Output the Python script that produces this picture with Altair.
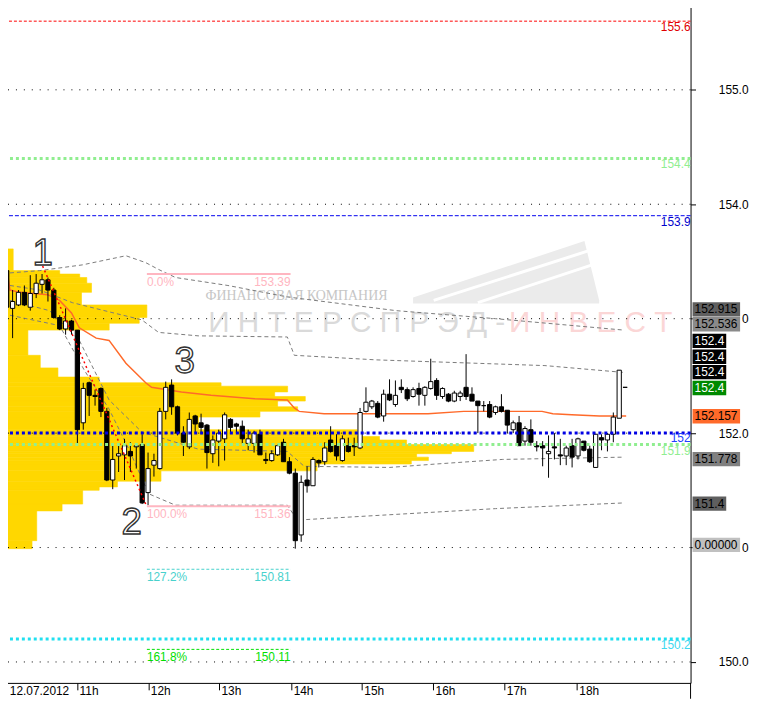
import json
import altair as alt
import pandas as pd

# ---------------- candles (5-minute bars) ----------------
opens = [153.42, 153.09, 153.12, 153.23, 153.10, 153.22, 153.30, 153.34, 153.25, 153.01,
         152.91, 152.98, 152.90, 152.09, 152.44, 152.33, 152.39, 152.19, 151.59, 151.80,
         151.81, 151.84, 151.88, 151.90, 151.48, 151.72, 151.69, 152.19, 152.42, 152.23,
         152.00, 151.88, 152.15, 152.09, 152.07, 151.82, 151.93, 151.95, 152.12, 152.08,
         152.06, 151.91, 151.91, 151.99, 151.77, 151.76, 151.81, 151.92, 151.75, 151.65,
         151.11, 151.59, 151.54, 151.76, 151.75, 151.94, 151.89, 151.76, 151.89, 151.89,
         151.87, 152.19, 152.23, 152.26, 152.15, 152.34, 152.25, 152.40, 152.38, 152.32,
         152.39, 152.33, 152.39, 152.46, 152.32, 152.34, 152.28, 152.32, 152.40, 152.34,
         152.28, 152.24, 152.25, 152.18, 152.23, 152.20, 152.03, 152.09, 151.93, 152.03,
         151.89, 151.89, 151.82, 151.88, 151.81, 151.80, 151.89, 151.80, 151.93, 151.86,
         151.70, 151.96, 151.94, 151.99, 152.13, 152.40]
highs = [153.49, 153.25, 153.25, 153.29, 153.38, 153.39, 153.39, 153.36, 153.27, 153.03,
         153.09, 152.99, 152.90, 152.44, 152.45, 152.38, 152.40, 152.22, 151.89, 151.89,
         151.95, 151.92, 151.91, 151.99, 151.83, 151.82, 152.22, 152.45, 152.47, 152.24,
         152.06, 152.18, 152.16, 152.17, 152.08, 151.98, 152.03, 152.18, 152.13, 152.09,
         152.11, 152.03, 152.02, 152.03, 151.83, 151.85, 151.90, 151.95, 151.79, 151.69,
         151.63, 151.71, 151.79, 151.77, 151.92, 152.06, 151.99, 151.98, 151.96, 151.96,
         152.22, 152.40, 152.29, 152.28, 152.38, 152.47, 152.46, 152.47, 152.40, 152.40,
         152.44, 152.41, 152.65, 152.48, 152.40, 152.35, 152.37, 152.37, 152.69, 152.40,
         152.28, 152.28, 152.28, 152.24, 152.34, 152.20, 152.11, 152.15, 152.06, 152.12,
         151.93, 151.93, 151.98, 152.00, 151.95, 151.89, 151.95, 151.96, 151.93, 151.89,
         151.99, 151.99, 152.00, 152.18, 152.55, 152.40]
lows = [153.03, 152.83, 153.11, 153.11, 153.07, 153.18, 153.22, 153.15, 153.00, 152.90,
        152.86, 152.86, 151.90, 152.03, 152.15, 152.24, 152.14, 151.58, 151.51, 151.66,
        151.59, 151.66, 151.69, 151.38, 151.37, 151.62, 151.68, 152.12, 152.16, 151.98,
        151.80, 151.86, 152.00, 151.99, 151.69, 151.74, 151.71, 151.76, 152.00, 152.00,
        151.91, 151.85, 151.83, 151.81, 151.73, 151.75, 151.80, 151.75, 151.64, 150.99,
        151.05, 151.48, 151.54, 151.70, 151.72, 151.83, 151.76, 151.75, 151.83, 151.80,
        151.86, 152.18, 152.21, 152.13, 152.10, 152.28, 152.23, 152.35, 152.28, 152.31,
        152.24, 152.24, 152.38, 152.29, 152.30, 152.27, 152.27, 152.28, 152.29, 152.28,
        152.00, 152.19, 152.13, 152.16, 152.18, 152.00, 152.00, 151.89, 151.89, 151.89,
        151.84, 151.71, 151.61, 151.77, 151.72, 151.72, 151.70, 151.77, 151.84, 151.74,
        151.70, 151.85, 151.84, 151.92, 152.13, 152.40]
closes = [153.10, 153.15, 153.23, 153.12, 153.22, 153.31, 153.34, 153.25, 153.01, 152.91,
          152.98, 152.90, 152.03, 152.39, 152.33, 152.32, 152.19, 151.59, 151.77, 151.82,
          151.89, 151.80, 151.89, 151.39, 151.69, 151.76, 152.19, 152.40, 152.23, 152.00,
          151.92, 152.12, 152.08, 152.05, 151.83, 151.94, 152.00, 152.16, 152.05, 152.06,
          151.95, 151.95, 152.00, 151.81, 151.76, 151.82, 151.89, 151.75, 151.65, 151.06,
          151.57, 151.54, 151.77, 151.74, 151.87, 151.84, 151.80, 151.95, 151.84, 151.88,
          152.18, 152.27, 152.28, 152.14, 152.34, 152.29, 152.33, 152.38, 152.30, 152.38,
          152.34, 152.40, 152.45, 152.33, 152.39, 152.28, 152.35, 152.35, 152.32, 152.28,
          152.24, 152.24, 152.14, 152.23, 152.19, 152.07, 152.09, 151.89, 152.04, 151.92,
          151.88, 151.87, 151.84, 151.87, 151.80, 151.87, 151.79, 151.95, 151.85, 151.75,
          151.99, 151.94, 151.99, 152.14, 152.55, 152.40]

# ---------------- axes ----------------
price_ticks = [150, 151, 152, 153, 154, 155]
covered_ticks = [151, 153]          # labels hidden behind the price boxes, only the last "0" shows
hour_ticks = [0.1, 11.95, 24.05, 36.05, 48.3, 60.3, 72.4, 84.5, 96.8]
hour_labels = ["12.07.2012", "11h", "12h", "13h", "14h", "15h", "16h", "17h", "18h"]

# ---------------- VWAP (orange) ----------------
vwap_i = [-0.84, -0.12, 0.56, 2.24, 6.95, 8.97, 11.0, 12.33, 15.19, 17.38, 20.24, 23.6, 24.6,
          29.66, 34.7, 42.1, 47.65, 48.83, 49.67, 53.88, 71.54, 77.6, 90.9, 92.73, 95.93,
          100.64, 105.18]
vwap_p = [153.57, 153.48, 153.25, 153.23, 153.21, 153.16, 153.05, 152.92, 152.83, 152.81,
          152.61, 152.44, 152.40, 152.36, 152.33, 152.30, 152.29, 152.22, 152.19, 152.17,
          152.17, 152.19, 152.19, 152.17, 152.16, 152.15, 152.15]

# ---------------- deviation bands (grey dashed) ----------------
band1_i = [0.56, 5.6, 12.83, 20.24, 23.6, 25.79, 28.65, 37.56, 47.65, 66.16, 83.0, 104.84]
band1_p = [153.40, 153.42, 153.47, 153.55, 153.49, 153.43, 153.36, 153.29, 153.19, 153.07, 153.00, 152.90]
band2_i = [0.56, 5.6, 11.15, 17.38, 22.93, 25.79, 32.52, 47.65, 48.83, 62.79, 91.39, 104.84]
band2_p = [153.29, 153.25, 153.14, 153.06, 152.99, 152.88, 152.85, 152.84, 152.68, 152.64, 152.59, 152.53]
band3_i = [0.56, 7.28, 12.33, 17.38, 22.93, 32.52, 47.65, 50.51, 65.0, 72.9, 84.15, 104.84]
band3_p = [153.16, 153.07, 152.81, 152.29, 152.01, 151.86, 151.84, 151.71, 151.70, 151.73, 151.77, 151.79]
band4_i = [0.56, 8.97, 13.17, 17.38, 20.74, 24.1, 28.65, 47.65, 49.33, 66.16, 83.0, 104.84]
band4_p = [153.03, 152.94, 152.55, 152.21, 151.86, 151.47, 151.37, 151.37, 151.24, 151.29, 151.34, 151.39]

# ---------------- zigzag (1 -> 2) ----------------
zigzag_i = [6.1, 23.6]
zigzag_p = [153.46, 151.38]

# ---------------- volume profile (yellow), volume in bar-widths ----------------
profile_edges = [153.61, 153.42, 153.39, 153.36, 153.31, 153.23, 153.12, 153.01, 152.96, 152.90,
                 152.68, 152.57, 152.49, 152.44, 152.41, 152.36, 152.32, 152.28, 152.23, 152.19,
                 152.14, 152.03, 151.97, 151.94, 151.90, 151.84, 151.82, 151.79, 151.76, 151.73,
                 151.67, 151.58, 151.53, 151.50, 151.38, 151.32, 151.06, 150.99]
profile_volume = [1.0, 8.9, 12.3, 13.5, 14.3, 12.6, 23.7, 22.4, 17.3, 3.5, 5.6, 8.6, 15.6, 36.3,
                  47.6, 45.4, 50.6, 45.9, 49.3, 42.9, 32.5, 59.4, 63.2, 67.8, 79.2, 75.4, 69.5,
                  71.5, 68.6, 52.6, 26.1, 18.7, 15.6, 12.8, 9.3, 5.0, 4.2]
profile_start = 0.1

# ---------------- horizontal levels ----------------
level_prices = [155.6, 154.4, 153.9, 152.0, 151.9, 150.2]
level_labels = ["155.6", "154.4", "153.9", "152", "151.9", "150.2"]

# ---------------- fibonacci ----------------
fib_pct = ["0.0%", "100.0%", "127.2%", "161.8%"]
fib_price = [153.39, 151.36, 150.81, 150.11]
fib_start = 23.8
fib_end = 48.2

# ---------------- price boxes at the right ----------------
box_text = ["152.915", "152.536", "152.4", "152.4", "152.4", "152.4", "152.157", "151.778", "151.4", "0.00000"]
box_pos = [153.081, 152.951, 152.806, 152.668, 152.533, 152.394, 152.148, 151.773, 151.384, 151.023]

# ---------------- wave numbers ----------------
wave_text = ["1", "2", "3"]
wave_i = [6.1, 21.2, 30.2]
wave_p = [153.566, 151.211, 152.622]

# ---------------- verticals ----------------
vgrid_i = [0.1]
vline_i = [0.05, -0.79]
vline_top = [155.75, 154.67]
vline_bottom = [150.99, 152.21]

# ---------------- watermark ----------------
wm_small_text = "ФИНАНСОВАЯ КОМПАНИЯ"
wm_small_pos = (49.2, 153.202)
wm_big_text = ["И Н Т Е Р С П Р Э Д -", "И Н В Е С Т"]
wm_big_i = [34.2, 85.3]
wm_big_p = [152.96, 152.96]
logo_i = [69.0, 98.1, 100.6]
logo_top = [153.185, 153.678, 153.159]
logo_bot = [153.133, 153.133, 153.133]
stripe_id = [1, 1, 2, 2]
stripe_i = [72.5, 98.6, 80.0, 99.4]
stripe_p = [153.16, 153.59, 153.14, 153.47]

# =====================================================================
XDOM = [-1.127, 116.115]
YDOM = [149.817, 155.756]
W, H = 697, 686
FONT = "Liberation Sans"
xs = alt.Scale(domain=XDOM, nice=False, zero=False)
ys = alt.Scale(domain=YDOM, nice=False, zero=False)


def X(f):
    return alt.X(f, scale=xs)


def Y(f):
    return alt.Y(f, scale=ys)


candles = pd.DataFrame({"i": list(range(len(opens))), "o": opens, "h": highs, "l": lows, "c": closes})
candles["dir"] = ["up" if c > o else ("down" if c < o else "flat") for o, c in zip(opens, closes)]

covered_expr = " || ".join(f"datum.value == {v}" for v in covered_ticks)
x_axis = alt.Axis(values=hour_ticks, labelExpr=f"{json.dumps(hour_labels)}[round(datum.value / 12)]",
                  orient="bottom", title=None, grid=False, tickSize=7, tickColor="black", tickWidth=1,
                  domainColor="black", domainWidth=1, labelFont=FONT, labelFontSize=12,
                  labelColor="black", labelAlign="left", labelBaseline="top", labelPadding=-4,
                  labelOffset=2, labelFlush=False, labelOverlap=False)
y_axis = alt.Axis(values=price_ticks, labelExpr=f"({covered_expr}) ? '0' : format(datum.value, '.1f')",
                  orient="right", title=None, grid=False,
                  tickSize=5, tickColor="black", tickWidth=1, domainColor="black", domainWidth=1,
                  labelFont=FONT, labelFontSize=12, labelColor="black", labelAlign="right",
                  labelBaseline="middle", labelPadding=53, labelFlush=False, labelOverlap=False)

layers = []

wick_chart = alt.Chart(candles).mark_rule(color="black", strokeWidth=1).encode(
    x=alt.X("i:Q", scale=xs, axis=x_axis), y=alt.Y("l:Q", scale=ys, axis=y_axis), y2="h:Q")

# volume profile
prof = pd.DataFrame({"top": profile_edges[:-1], "bottom": profile_edges[1:], "vol": profile_volume})
layers.append(alt.Chart(prof).transform_calculate(
    x1=f"{profile_start}", x2=f"{profile_start} + datum.vol").mark_rect(
    color="#ffd700", stroke="#ffd700", strokeWidth=0.6).encode(
    x=X("x1:Q"), x2="x2:Q", y=Y("top:Q"), y2="bottom:Q"))

# watermark logo
layers.append(alt.Chart(pd.DataFrame({"i": logo_i, "top": logo_top, "bot": logo_bot}))
              .mark_area(color="#ebebeb").encode(x=X("i:Q"), y=Y("top:Q"), y2="bot:Q"))
layers.append(alt.Chart(pd.DataFrame({"s": stripe_id, "i": stripe_i, "p": stripe_p}))
              .mark_line(color="white", strokeWidth=3).encode(x=X("i:Q"), y=Y("p:Q"), detail="s:N"))
layers.append(alt.Chart(pd.DataFrame({"t": [wm_small_text], "i": [wm_small_pos[0]], "p": [wm_small_pos[1]]}))
              .mark_text(font="Liberation Serif", fontSize=14, color="#c6c6c6", align="center", baseline="middle")
              .encode(x=X("i:Q"), y=Y("p:Q"), text="t:N"))
wm_colors = ["#dadada", "#fbd6d6"]
for t, i, p, col in zip(wm_big_text, wm_big_i, wm_big_p, wm_colors):
    layers.append(alt.Chart(pd.DataFrame({"t": [t], "i": [i], "p": [p]}))
                  .mark_text(font=FONT, fontSize=30, color=col, align="left", baseline="middle")
                  .encode(x=X("i:Q"), y=Y("p:Q"), text="t:N"))

# dotted grid
layers.append(alt.Chart(pd.DataFrame({"p": price_ticks})).mark_rule(
    color="black", strokeDash=[1, 7], strokeWidth=1).encode(y=Y("p:Q")))
layers.append(alt.Chart(pd.DataFrame({"i": vgrid_i})).mark_rule(
    color="black", strokeDash=[1, 7], strokeWidth=1).encode(x=X("i:Q")))

# verticals
vl = pd.DataFrame({"i": vline_i, "a": vline_top, "b": vline_bottom, "k": ["solid", "dash"]})
layers.append(alt.Chart(vl).transform_filter("datum.k == 'solid'").mark_rule(
    color="#b4b4b4", strokeWidth=2).encode(x=X("i:Q"), y=Y("a:Q"), y2="b:Q"))
layers.append(alt.Chart(vl).transform_filter("datum.k == 'dash'").mark_rule(
    color="#808080", strokeWidth=1, strokeDash=[3, 3]).encode(x=X("i:Q"), y=Y("a:Q"), y2="b:Q"))

# bands
bands = pd.concat([
    pd.DataFrame({"b": k, "i": bi, "p": bp})
    for k, (bi, bp) in enumerate([(band1_i, band1_p), (band2_i, band2_p), (band3_i, band3_p), (band4_i, band4_p)])
])
layers.append(alt.Chart(bands).mark_line(color="#7a7a7a", strokeDash=[4, 3], strokeWidth=1).encode(
    x=X("i:Q"), y=Y("p:Q"), detail="b:N"))

# vwap
layers.append(alt.Chart(pd.DataFrame({"i": vwap_i, "p": vwap_p})).mark_line(
    color="#ff6a2a", strokeWidth=1.5).encode(x=X("i:Q"), y=Y("p:Q")))

# candles
layers.append(wick_chart)
layers.append(alt.Chart(candles).transform_calculate(x1="datum.i - 0.36", x2="datum.i + 0.36")
              .mark_rect(stroke="black", strokeWidth=1).encode(
    x=X("x1:Q"), x2="x2:Q", y=Y("o:Q"), y2="c:Q",
    fill=alt.Fill("dir:N", scale=alt.Scale(domain=["up", "down", "flat"], range=["white", "black", "black"]),
                  legend=None)))

# zigzag
layers.append(alt.Chart(pd.DataFrame({"i": zigzag_i, "p": zigzag_p})).mark_line(
    color="#ff0000", strokeDash=[2, 3], strokeWidth=1.5).encode(x=X("i:Q"), y=Y("p:Q")))

# horizontal levels: (line colour, text colour, dash, width, label offset)
level_style = {
    "155.6": ("#ff0000", "#e00000", [3, 2], 1, 1),
    "154.4": ("#90ee90", "#90ee90", [3, 3], 3, 1),
    "153.9": ("#0000ee", "#0000cc", [4, 2], 1, 1),
    "152": ("#0000e6", "#2040ff", [3, 3], 3, 0),
    "151.9": ("#90ee90", "#90ee90", [3, 3], 3, 2),
    "150.2": ("#20e0f0", "#40d8f0", [3, 3], 3, 1),
}
for p, t in zip(level_prices, level_labels):
    line_c, text_c, dash, wdt, off = level_style[t]
    d = pd.DataFrame({"p": [p], "t": [t]})
    layers.append(alt.Chart(d).mark_rule(color=line_c, strokeDash=dash, strokeWidth=wdt).encode(y=Y("p:Q")))
    layers.append(alt.Chart(d).mark_text(font=FONT, fontSize=12, color=text_c, align="right",
                                         baseline="top", dy=off).encode(x=alt.value(W), y=Y("p:Q"), text="t:N"))

# fibonacci
fib_style = {
    "0.0%": ("#ffb6c1", None, 2),
    "100.0%": ("#ffb6c1", None, 2),
    "127.2%": ("#48d1cc", [3, 2], 1),
    "161.8%": ("#00e000", [3, 2], 1),
}
for pct, p in zip(fib_pct, fib_price):
    col, dash, wdt = fib_style[pct]
    d = pd.DataFrame({"s": [fib_start], "e": [fib_end], "p": [p], "pct": [pct], "val": [f"{p:.2f}"]})
    kw = {"color": col, "strokeWidth": wdt}
    if dash:
        kw["strokeDash"] = dash
    layers.append(alt.Chart(d).mark_rule(**kw).encode(x=X("s:Q"), x2="e:Q", y=Y("p:Q")))
    layers.append(alt.Chart(d).mark_text(font=FONT, fontSize=12, color=col, align="left",
                                         baseline="top", dy=3).encode(x=X("s:Q"), y=Y("p:Q"), text="pct:N"))
    layers.append(alt.Chart(d).mark_text(font=FONT, fontSize=12, color=col, align="right",
                                         baseline="top", dy=3).encode(x=X("e:Q"), y=Y("p:Q"), text="val:N"))

# wave numbers (outlined white digits)
waves = pd.DataFrame({"t": wave_text, "i": wave_i, "p": wave_p})
layers.append(alt.Chart(waves).mark_text(font=FONT, fontSize=37, fill="white", stroke="#333333",
                                         strokeWidth=1.4, align="center", baseline="middle").encode(
    x=X("i:Q"), y=Y("p:Q"), text="t:N"))

# price boxes
box_fill = ["#5f5f5f", "#8a8a8a", "#000000", "#000000", "#000000", "#008a00", "#ff6a2a", "#808080", "#5f5f5f", "#c0c0c0"]
box_ink = ["black", "black", "white", "white", "white", "white", "black", "black", "black", "black"]
boxes = pd.DataFrame({"t": box_text, "p": box_pos, "fill": box_fill, "ink": box_ink})
for cond, right in [("length(datum.t) > 5", 747), ("length(datum.t) <= 5", 733)]:
    layers.append(alt.Chart(boxes).transform_filter(cond)
                  .transform_calculate(top="datum.p + 0.063", bot="datum.p - 0.063")
                  .mark_rect().encode(x=alt.value(699), x2=alt.value(right), y=Y("top:Q"), y2="bot:Q",
                                      fill=alt.Fill("fill:N", scale=None)))
layers.append(alt.Chart(boxes).mark_text(font=FONT, fontSize=12, align="left", baseline="middle").encode(
    x=alt.value(701), y=Y("p:Q"), text="t:N", color=alt.Color("ink:N", scale=None)))

# right axis line continues below the time axis, as in the terminal window
layers.append(alt.Chart(pd.DataFrame({"k": [0]})).mark_rule(color="black", strokeWidth=1).encode(
    x=alt.value(W), y=alt.value(H), y2=alt.value(H + 16)))

chart = alt.layer(*layers).properties(
    width=W, height=H,
    autosize=alt.AutoSizeParams(type="none"),
    padding={"left": -8, "top": -8, "right": 60, "bottom": 16},
).configure_view(stroke=None)

chart.save("out.html", embed_options={"renderer": "svg", "actions": False})
